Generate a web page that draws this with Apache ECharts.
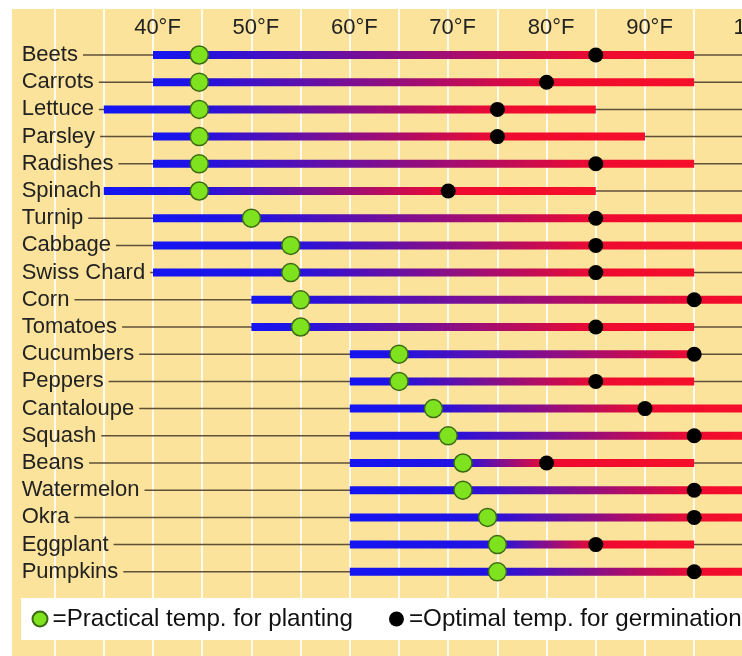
<!DOCTYPE html>
<html><head><meta charset="utf-8">
<script src="https://cdn.jsdelivr.net/npm/echarts@6/dist/echarts.min.js"></script>
<style>html,body{margin:0;padding:0;background:#fff}#c{width:742px;height:656px}</style>
</head><body><div id="c"></div>
<script>
const categories = ['Beets','Carrots','Lettuce','Parsley','Radishes','Spinach','Turnip','Cabbage','Swiss Chard','Corn','Tomatoes','Cucumbers','Peppers','Cantaloupe','Squash','Beans','Watermelon','Okra','Eggplant','Pumpkins'];
const minTemp   = [40,40,35,40,40,35,40,40,40,50,50,60,60,60,60,60,60,60,60,60];
const maxTemp   = [95,95,85,90,95,85,100,100,95,100,95,95,95,100,100,95,100,100,95,100];
const practical = [44.7,44.7,44.7,44.7,44.7,44.7,50,54,54,55,55,65,65,68.5,70,71.5,71.5,74,75,75];
const optimal   = [85,80,75,75,85,70,85,85,85,95,85,95,85,90,95,80,95,95,85,95];
const tickLabels = [40,50,60,70,80,90,100];

const LABEL_FONT = '"Liberation Sans", Arial, sans-serif';
const LABEL_SIZE = 22;
const labelLeft = 21.7;
const ctx = document.createElement('canvas').getContext('2d');
ctx.font = LABEL_SIZE + 'px ' + LABEL_FONT;
const widths = categories.map(c => ctx.measureText(c).width);

const rows = categories.map((c,i) => [minTemp[i], i, maxTemp[i], practical[i], optimal[i]]);

const gridLeft = 54.6, gridWidth = 688.8;
const chart = echarts.init(document.getElementById('c'), null, {renderer:'canvas'});
chart.setOption({
  animation:false,
  backgroundColor:'#ffffff',
  graphic:[{type:'rect', z:-100, silent:true, shape:{x:12,y:9,width:740,height:660}, style:{fill:'#fbe39b'}}],
  grid:[
    {left:gridLeft, width:gridWidth, top:9, bottom:0, containLabel:false, outerBoundsMode:'none'},
    {left:gridLeft, width:gridWidth, top:41.4, height:544, containLabel:false, outerBoundsMode:'none'}
  ],
  xAxis:[
    {gridIndex:0, type:'value', min:30, max:100, interval:5,
     axisLine:{show:false}, axisTick:{show:false}, axisLabel:{show:false},
     splitLine:{show:true, lineStyle:{color:'#fffaf0', width:2}}},
    {gridIndex:1, type:'value', min:30, max:100, interval:5, position:'top',
     axisLine:{show:false}, axisTick:{show:false}, splitLine:{show:false},
     axisLabel:{show:true, margin:13, verticalAlign:'middle', padding:[0,0,0,9],
       fontFamily:LABEL_FONT, fontSize:LABEL_SIZE, color:'#222',
       formatter:v => tickLabels.indexOf(v) >= 0 ? (v === 100 ? '{r|' + v + '°F}' : v + '°F') : '',
       rich:{r:{fontFamily:LABEL_FONT, fontSize:LABEL_SIZE, color:'#222', padding:[0,0,0,30]}}}}
  ],
  yAxis:[
    {gridIndex:0, type:'value', show:false},
    {gridIndex:1, type:'category', data:categories, inverse:true,
     axisLine:{show:false}, axisTick:{show:false}, splitLine:{show:false},
     axisLabel:{interval:0, align:'left', margin:gridLeft - labelLeft, fontFamily:LABEL_FONT, fontSize:LABEL_SIZE, color:'#222'}}
  ],
  legend:{
    left:21, top:598, width:1200, padding:[9,10.5,9,10.5], itemWidth:15, itemHeight:15, itemGap:36,
    backgroundColor:'#ffffff', borderWidth:0, selectedMode:false,
    textStyle:{fontFamily:'"Liberation Sans", Arial, sans-serif', fontSize:24.2, color:'#111'},
    data:[{name:'=Practical temp. for planting', icon:'circle'},{name:'=Optimal temp. for germination', icon:'circle'}]
  },
  series:[
    {type:'custom', name:'rowLines', xAxisIndex:1, yAxisIndex:1, z:1, silent:true,
     encode:{x:[0,2], y:1}, data:rows,
     renderItem:(params, api) => {
       const i = api.value(1);
       const y = api.coord([40, i])[1];
       const cs = params.coordSys;
       return {type:'line', shape:{x1:labelLeft + widths[i] + 5, y1:y, x2:cs.x + cs.width + 5, y2:y},
               style:{stroke:'#5e5138', lineWidth:1.5}};
     }},
    {type:'custom', name:'ranges', xAxisIndex:1, yAxisIndex:1, z:2, silent:true, clip:true,
     encode:{x:[0,2], y:1}, data:rows,
     renderItem:(params, api) => {
       const i = api.value(1);
       const lo = api.coord([api.value(0), i]);
       const hi = api.coord([api.value(2), i]);
       const g = api.coord([api.value(3), i])[0];
       const b = api.coord([api.value(4), i])[0];
       const w = hi[0] - lo[0];
       const fg = Math.max(0, Math.min(1, (g - lo[0]) / w));
       const fb = Math.max(0, Math.min(1, (b - lo[0]) / w));
       return {type:'rect', shape:{x:lo[0], y:lo[1]-4, width:w, height:8},
         style:{fill:new echarts.graphic.LinearGradient(lo[0],0,hi[0],0,[
           {offset:0,color:'#1515f2'},{offset:fg,color:'#2212e0'},
           {offset:fb,color:'#ee0a30'},{offset:1,color:'#f50f2a'}], true)}};
     }},
    {type:'scatter', name:'=Practical temp. for planting', xAxisIndex:1, yAxisIndex:1, z:3,
     symbol:'circle', symbolSize:18,
     itemStyle:{color:'#7ee21e', borderColor:'#3b6a14', borderWidth:1.5, opacity:1},
     data:practical.map((v,i) => [v,i])},
    {type:'scatter', name:'=Optimal temp. for germination', xAxisIndex:1, yAxisIndex:1, z:3,
     symbol:'circle', symbolSize:15,
     itemStyle:{color:'#000000', opacity:1},
     data:optimal.map((v,i) => [v,i])}
  ]
});
</script></body></html>
